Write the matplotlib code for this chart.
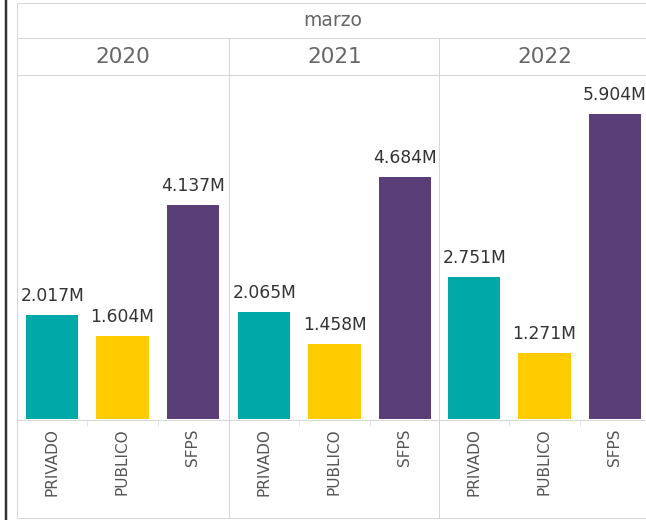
import matplotlib
matplotlib.use("Agg")
import matplotlib.pyplot as plt
from matplotlib.lines import Line2D

month = "marzo"
years = ["2020", "2021", "2022"]
categories = ["PRIVADO", "PUBLICO", "SFPS"]
privado = [2.017, 2.065, 2.751]
publico = [1.604, 1.458, 1.271]
sfps = [4.137, 4.684, 5.904]
colors = ["#00A9A8", "#FFCC00", "#5A3E78"]

W, H = 646, 520
fig = plt.figure(figsize=(W / 100, H / 100), dpi=100)
fig.patch.set_facecolor("white")


def fx(x):
    return x / W


def fy(y):
    return 1 - y / H


def hline(y, x0, x1, color="#D6D6D6", lw=1.0):
    fig.add_artist(Line2D([fx(x0), fx(x1)], [fy(y), fy(y)], transform=fig.transFigure,
                          color=color, lw=lw * 0.72, solid_capstyle="butt"))


def vline(x, y0, y1, color="#D6D6D6", lw=1.0):
    fig.add_artist(Line2D([fx(x), fx(x)], [fy(y0), fy(y1)], transform=fig.transFigure,
                          color=color, lw=lw * 0.72, solid_capstyle="butt"))


panel_x = [17, 229, 439]
panel_w = 211
top_y, base_y = 75, 419
ymax = 6.65

for i, yr in enumerate(years):
    vals = [privado[i], publico[i], sfps[i]]
    ax = fig.add_axes([fx(panel_x[i]), fy(base_y), panel_w / W, (base_y - top_y) / H])
    ax.set_xlim(-0.5, 2.5)
    ax.set_ylim(0, ymax)
    ax.axis("off")
    bars = ax.bar(range(3), vals, width=0.74, color=colors)
    for j, v in enumerate(vals):
        ax.annotate(f"{v:.3f}M", (j, v), xytext=(0, 7.2), textcoords="offset points",
                    ha="center", va="bottom", fontsize=12.3, color="#333333")
    band = panel_w / 3
    for j, cat in enumerate(categories):
        cx = panel_x[i] + band * (j + 0.5)
        fig.text(fx(cx), fy(428), cat, rotation=90, ha="center", va="top",
                 fontsize=11, color="#555555")
        if j > 0:
            vline(panel_x[i] + band * j, 420, 426, color="#E6E6E6")
    fig.text(fx(panel_x[i] + panel_w / 2), fy(57), yr, ha="center", va="center",
             fontsize=15.5, color="#666666")

fig.text(fx(333), fy(21), month, ha="center", va="center", fontsize=13.5, color="#666666")

# grid lines
for y in [3, 38, 75, 420, 518]:
    hline(y, 17, W + 5)
vline(17, 3, 518)
vline(229, 38, 518)
vline(439, 38, 518)
# dark left border
vline(6, 0, H, color="#333333", lw=2.5)

fig.savefig("out.png", dpi=100, facecolor="white")
